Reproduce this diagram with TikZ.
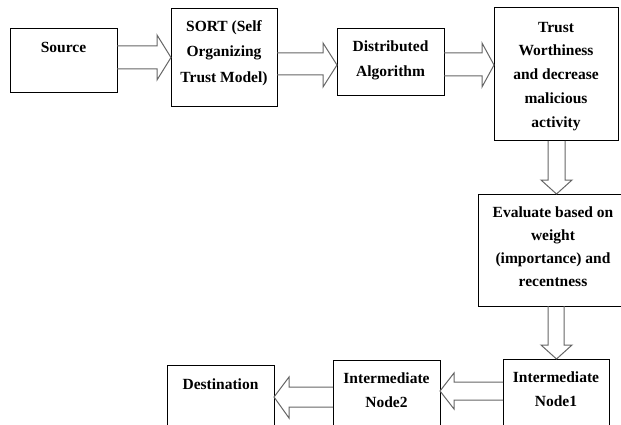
\documentclass[tikz,border=0pt]{standalone}
\usepackage{fontspec}
\setmainfont{Liberation Serif}
\usetikzlibrary{calc}
\tikzset{
  box/.style={draw=black, line width=1pt, fill=none, inner sep=0pt, outer sep=0pt},
  txt/.style={anchor=north, inner sep=0pt, align=center, text=black,
    font=\fontsize{15.5}{24}\selectfont\bfseries},
  blk/.style={draw=black!60, line width=1pt, line join=miter}
}
\begin{document}
\begin{tikzpicture}[x=1pt,y=-1pt]
\useasboundingbox (0,0) rectangle (621,425);
\fill[white] (0,0) rectangle (621,425);
\clip (0,0) rectangle (621,425);
% boxes
\node[box, minimum width=107pt, minimum height=64pt] (src) at (63.5,61) {};
\node[box, minimum width=106pt, minimum height=98pt] (sort) at (224,58) {};
\node[box, minimum width=107pt, minimum height=67pt] (dist) at (390.5,62.5) {};
\node[box, minimum width=124pt, minimum height=133pt] (trust) at (556,74.5) {};
\node[box, minimum width=162pt, minimum height=112pt] (eval) at (559,250) {};
\node[box, minimum width=106pt, minimum height=91pt] (nodeone) at (556,404.5) {};
\node[box, minimum width=107pt, minimum height=90pt] (nodetwo) at (386.5,405) {};
\node[box, minimum width=107pt, minimum height=85pt] (dest) at (220.5,407.5) {};
% texts
\node[txt] (srcT) at ([yshift=-6.2pt]src.north) {\strut Source};
\node[txt, font=\fontsize{15.5}{25.5}\selectfont\bfseries] (sortT) at ([yshift=-4.2pt]sort.north) {\strut SORT (Self\\Organizing\\Trust Model)};
\node[txt, font=\fontsize{15.5}{25}\selectfont\bfseries] (distT) at ([yshift=-5.2pt]dist.north) {\strut Distributed\\Algorithm};
\node[txt, font=\fontsize{15.5}{23.75}\selectfont\bfseries] (trustT) at ([yshift=-7.2pt]trust.north) {\strut Trust\\Worthiness\\and decrease\\malicious\\activity};
\node[txt, font=\fontsize{15.5}{23}\selectfont\bfseries] (evalT) at ([yshift=-7.2pt,xshift=-6pt]eval.north) {\strut Evaluate based on\\weight\\(importance) and\\recentness};
\node[txt] (nodeoneT) at ([yshift=-6.2pt]nodeone.north) {\strut Intermediate\\Node1};
\node[txt] (nodetwoT) at ([yshift=-6.2pt]nodetwo.north) {\strut Intermediate\\Node2};
\node[txt] (destT) at ([yshift=-7.2pt]dest.north) {\strut Destination};
% block arrows
\draw[blk] let \p1=(src.east), \p2=(sort.west) in
  (\x1,-46pt) -- (\x2-14pt,-46pt) -- (\x2-14pt,-35pt) -- (\x2,-57.5pt)
  -- (\x2-14pt,-80pt) -- (\x2-14pt,-69pt) -- (\x1,-69pt);
\draw[blk] let \p1=(sort.east), \p2=(dist.west) in
  (\x1,-53pt) -- (\x2-14pt,-53pt) -- (\x2-14pt,-43pt) -- (\x2,-65pt)
  -- (\x2-14pt,-87pt) -- (\x2-14pt,-75pt) -- (\x1,-75pt);
\draw[blk] let \p1=(dist.east), \p2=(trust.west) in
  (\x1,-53pt) -- (\x2-12pt,-53pt) -- (\x2-12pt,-43pt) -- (\x2,-65pt)
  -- (\x2-12pt,-87pt) -- (\x2-12pt,-76pt) -- (\x1,-76pt);
\draw[blk] let \p1=(trust.south), \p2=(eval.north) in
  (548pt,\y1) -- (548pt,\y2+14pt) -- (541pt,\y2+14pt) -- (556.5pt,\y2)
  -- (572pt,\y2+14pt) -- (565pt,\y2+14pt) -- (565pt,\y1);
\draw[blk] let \p1=(eval.south), \p2=(nodeone.north) in
  (548pt,\y1) -- (548pt,\y2+14pt) -- (541pt,\y2+14pt) -- (556.5pt,\y2)
  -- (572pt,\y2+14pt) -- (564pt,\y2+14pt) -- (564pt,\y1);
\draw[blk] let \p1=(nodeone.west), \p2=(nodetwo.east) in
  (\x1,-382pt) -- (\x2+14pt,-382pt) -- (\x2+14pt,-373pt) -- (\x2,-391pt)
  -- (\x2+14pt,-409pt) -- (\x2+14pt,-400pt) -- (\x1,-400pt);
\draw[blk] let \p1=(nodetwo.west), \p2=(dest.east) in
  (\x1,-387pt) -- (\x2+15pt,-387pt) -- (\x2+15pt,-377pt) -- (\x2,-397pt)
  -- (\x2+15pt,-418pt) -- (\x2+15pt,-407pt) -- (\x1,-407pt);
\end{tikzpicture}
\end{document}
